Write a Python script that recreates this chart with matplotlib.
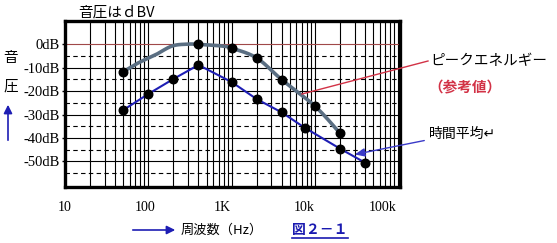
import numpy as np
import matplotlib
matplotlib.use("Agg")
import matplotlib.pyplot as plt
import matplotlib.transforms as mtransforms

# ---- data -------------------------------------------------------
avg_freq = [50, 100, 200, 400, 1000, 2000, 4000, 7500, 20000, 40000]
avg_db = [-28.1, -21.2, -14.8, -8.8, -16.1, -23.4, -29.1, -35.6, -44.6, -50.6]

peak_freq = [50, 400, 1000, 2000, 4000, 10000, 20000]
peak_db = [-11.7, 0.0, -1.6, -5.8, -15.1, -26.4, -38.0]
# the grey line itself, traced between the dots
peak_line_freq = [50, 75, 120, 193, 300, 400, 767, 1000, 2000, 4000, 10000, 20000]
peak_line_db = [-11.7, -8.0, -4.6, -0.7, 0.1, 0.0, -0.7, -1.6, -5.8, -15.1, -26.4, -38.0]

x_ticks = [10, 100, 1000, 10000, 100000]
x_labels = ["10", "100", "1K", "10k", "100k"]
x_label_shift = [0, -3, -9, -11, -16]  # px, labels sit a bit left in the original
y_ticks = [0, -10, -20, -30, -40, -50]
y_labels = ["0dB", "-10dB", "-20dB", "-30dB", "-40dB", "-50dB"]

W, H = 557, 243
JP = ["Noto Sans CJK JP", "DejaVu Sans"]
SERIF = ["Liberation Serif", "Noto Sans CJK JP"]

BLUE = "#1e1eb4"
GREY = "#5a6e82"
RED = "#d23246"


def catmull_rom(xs, ys, n=20):
    # smooth curve through the points (for drawing only)
    p = np.column_stack([xs, ys])
    p = np.vstack([p[0], p, p[-1]])
    out = []
    for i in range(1, len(p) - 2):
        p0, p1, p2, p3 = p[i - 1], p[i], p[i + 1], p[i + 2]
        t = np.linspace(0, 1, n, endpoint=False)[:, None]
        seg = 0.5 * ((2 * p1) + (-p0 + p2) * t + (2 * p0 - 5 * p1 + 4 * p2 - p3) * t ** 2
                     + (-p0 + 3 * p1 - 3 * p2 + p3) * t ** 3)
        out.append(seg)
    out.append(p[-2][None, :])
    out = np.vstack(out)
    return out[:, 0], out[:, 1]


def fx(x):
    return x / W


def fy(y):
    return 1 - y / H


fig = plt.figure(figsize=(W / 100, H / 100), dpi=100)
ax = fig.add_axes([fx(65), fy(187), fx(400) - fx(65), fy(21) - fy(187)])
ax.set_xscale("log")
ax.set_xlim(10, 1.05e5)
ax.set_ylim(-61, 10)

# ---- grid ---------------------------------------------------------
for dec in [10, 100, 1000, 10000]:
    for m in range(1, 10):
        v = dec * m
        if v > 10:
            ax.axvline(v, color="black", lw=0.8, zorder=1)
ax.axvline(100000, color="black", lw=0.8, zorder=1)
for v in range(-5, -60, -5):
    if v % 10 == 0:
        ax.axhline(v, color="black", lw=0.8, zorder=1)
    else:
        ax.axhline(v, color="black", lw=0.8, ls=(0, (4, 3)), zorder=1)
ax.axhline(0, color="#a04848", lw=0.8, zorder=1)

# ---- curves -------------------------------------------------------
lx, ly = catmull_rom(np.log10(peak_line_freq), peak_line_db)
ax.plot(10 ** lx, ly, color=GREY, lw=2.6, zorder=3, solid_capstyle="round")
ax.plot(avg_freq, avg_db, color=BLUE, lw=1.5, zorder=3)
ax.scatter(peak_freq, peak_db, s=38, color="black", zorder=4)
ax.scatter(avg_freq, avg_db, s=38, color="black", zorder=4)

# ---- axes look ----------------------------------------------------
for s in ax.spines.values():
    s.set_linewidth(2.4)
    s.set_zorder(5)
ax.set_xticks([])
ax.minorticks_off()
ax.set_yticks(y_ticks)
ax.set_yticklabels(y_labels, fontsize=10.5, family=SERIF)
ax.tick_params(axis="y", length=2.5, width=1, pad=1)
ax.tick_params(axis="x", which="both", length=0)

bt = mtransforms.blended_transform_factory(ax.transData, fig.transFigure)
for v, lab, dx in zip(x_ticks, x_labels, x_label_shift):
    ax.text(v, fy(207), lab, transform=bt + mtransforms.ScaledTranslation(dx / 100, 0, fig.dpi_scale_trans),
            ha="center", va="center", fontsize=10, family=SERIF, clip_on=False)

# ---- labels and notes ---------------------------------------------
fig.text(fx(78), fy(20), "音圧はｄBV", fontsize=10.5, family=JP, va="bottom")
fig.text(fx(11), fy(58), "音", fontsize=10.5, family=JP, ha="center", va="center")
fig.text(fx(11), fy(87), "圧", fontsize=10.5, family=JP, ha="center", va="center")
fig.add_artist(matplotlib.patches.FancyArrowPatch(
    (fx(8), fy(143)), (fx(8), fy(102)), transform=fig.transFigure,
    arrowstyle="-|>,head_length=5,head_width=2.5", color=BLUE, lw=1.2))

fig.add_artist(matplotlib.patches.FancyArrowPatch(
    (fx(130), fy(230)), (fx(178), fy(230)), transform=fig.transFigure,
    arrowstyle="-|>,head_length=5,head_width=2.5", color=BLUE, lw=1.2))
fig.text(fx(181), fy(230), "周波数（Hz）", fontsize=9.5, family=JP, va="center")
fig.text(fx(292), fy(230), "図２－１", fontsize=10, family=JP, va="center",
         color="#1a1ab0", weight="bold")
fig.add_artist(matplotlib.lines.Line2D([fx(292), fx(348)], [fy(238), fy(238)],
                                       color="#1a1ab0", lw=1.2, transform=fig.transFigure))

fig.add_artist(matplotlib.lines.Line2D([fx(302), fx(428)], [fy(94), fy(61)],
                                       color=RED, lw=1.0, transform=fig.transFigure))
fig.text(fx(430), fy(61), "ピークエネルギー", fontsize=10.5, family=JP, va="center")
fig.text(fx(428), fy(87), "（参考値）", fontsize=10.5, family=JP, va="center", color=RED,
         weight="bold")

fig.text(fx(429), fy(134), "時間平均↵", fontsize=10, family=JP, va="center")
fig.add_artist(matplotlib.patches.FancyArrowPatch(
    (fx(427), fy(140)), (fx(352), fy(155)), transform=fig.transFigure,
    arrowstyle="-|>,head_length=6,head_width=2.5", color="#3a3ac8", lw=1.0))

fig.savefig("out.png", dpi=100)
